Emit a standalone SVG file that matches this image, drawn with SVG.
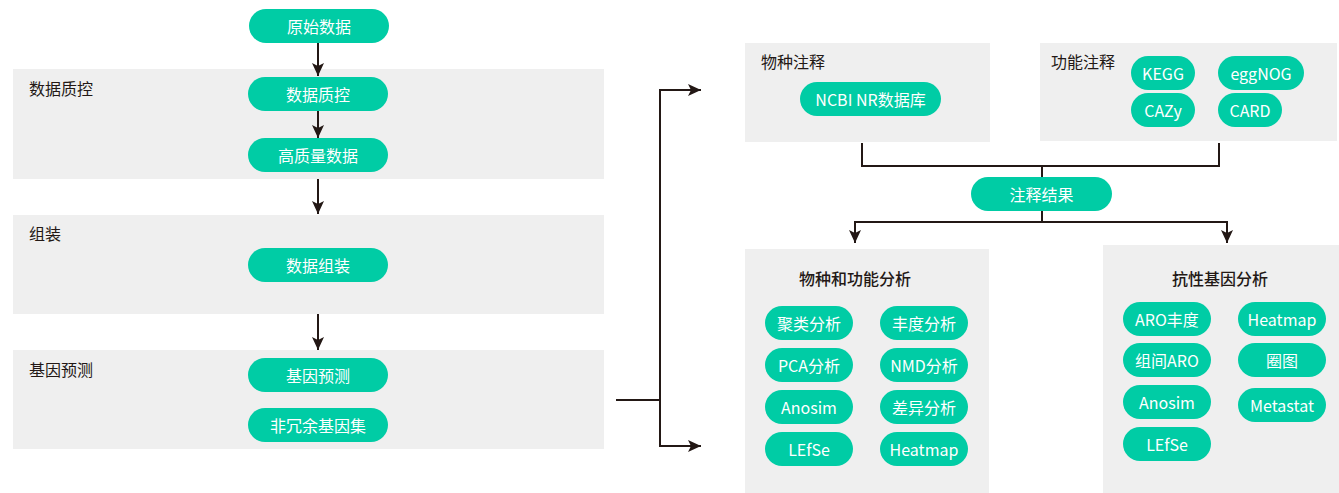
<svg xmlns="http://www.w3.org/2000/svg" width="1339" height="493" viewBox="0 0 1339 493">
<defs>
<style>
.band{fill:#efefef}
.pill{fill:#00cca5}
.pt{fill:#ffffff;font-family:"Noto Sans CJK SC","Noto Sans",sans-serif;font-size:16px;text-anchor:middle;dominant-baseline:central}
.lbl{fill:#231815;font-family:"Noto Sans CJK SC","Noto Sans",sans-serif;font-size:16px;dominant-baseline:central}
.ttl{fill:#231815;font-family:"Noto Sans CJK SC","Noto Sans",sans-serif;font-size:16px;font-weight:500;text-anchor:middle;dominant-baseline:central}
.ln{fill:none;stroke:#231815;stroke-width:2}
</style>
<marker id="ah" markerWidth="14" markerHeight="12" refX="13" refY="6" orient="auto" markerUnits="userSpaceOnUse">
<path d="M0,0 L13,6 L0,12 L3,6 z" fill="#231815"/>
</marker>
</defs>

<g id="band-qc"><rect class="band" x="13" y="69" width="591" height="110"/><text class="lbl" x="29" y="88">数据质控</text></g>
<g id="band-asm"><rect class="band" x="13" y="215" width="591" height="99"/><text class="lbl" x="29" y="233">组装</text></g>
<g id="band-gene"><rect class="band" x="13" y="350" width="591" height="99"/><text class="lbl" x="29" y="369">基因预测</text></g>

<g id="box-species"><rect class="band" x="745" y="43" width="245" height="99"/><text class="lbl" x="761" y="61">物种注释</text></g>
<g id="box-func"><rect class="band" x="1040" y="43" width="297" height="98"/><text class="lbl" x="1051" y="61">功能注释</text></g>
<g id="box-sfa"><rect class="band" x="745" y="249" width="244" height="244"/><text class="ttl" x="855" y="278">物种和功能分析</text></g>
<g id="box-arg"><rect class="band" x="1103" y="245" width="236" height="248"/><text class="ttl" x="1220" y="278">抗性基因分析</text></g>

<g id="connectors">
<line class="ln" x1="318" y1="43" x2="318" y2="76" marker-end="url(#ah)"/>
<line class="ln" x1="318" y1="111" x2="318" y2="138" marker-end="url(#ah)"/>
<line class="ln" x1="318" y1="179" x2="318" y2="214" marker-end="url(#ah)"/>
<line class="ln" x1="318" y1="314" x2="318" y2="350" marker-end="url(#ah)"/>
<line class="ln" x1="616" y1="400" x2="660" y2="400"/>
<polyline class="ln" points="660,90 660,446 701,446" marker-end="url(#ah)"/>
<line class="ln" x1="659" y1="90" x2="701" y2="90" marker-end="url(#ah)"/>
<polyline class="ln" points="862,143 862,166 1219,166 1219,143"/>
<line class="ln" x1="1042" y1="166" x2="1042" y2="177"/>
<line class="ln" x1="1042" y1="211" x2="1042" y2="222"/>
<line class="ln" x1="854" y1="222" x2="1228" y2="222"/>
<line class="ln" x1="855" y1="222" x2="855" y2="243" marker-end="url(#ah)"/>
<line class="ln" x1="1227" y1="222" x2="1227" y2="243" marker-end="url(#ah)"/>
</g>

<g id="n-raw"><rect class="pill" x="249" y="9" width="140" height="34" rx="17"/><text class="pt" x="319" y="26">原始数据</text></g>
<g id="n-qc"><rect class="pill" x="248" y="77" width="140" height="34" rx="17"/><text class="pt" x="318" y="94">数据质控</text></g>
<g id="n-hq"><rect class="pill" x="248" y="138" width="140" height="34" rx="17"/><text class="pt" x="318" y="155">高质量数据</text></g>
<g id="n-asm"><rect class="pill" x="248" y="248" width="140" height="34" rx="17"/><text class="pt" x="318" y="265">数据组装</text></g>
<g id="n-pred"><rect class="pill" x="248" y="358" width="140" height="34" rx="17"/><text class="pt" x="318" y="375">基因预测</text></g>
<g id="n-nr"><rect class="pill" x="248" y="408" width="140" height="34" rx="17"/><text class="pt" x="318" y="425">非冗余基因集</text></g>

<g id="n-ncbi"><rect class="pill" x="800" y="82" width="141" height="34" rx="17"/><text class="pt" x="870.5" y="99">NCBI NR数据库</text></g>
<g id="n-kegg"><rect class="pill" x="1131" y="56" width="64" height="34" rx="17"/><text class="pt" x="1163" y="73">KEGG</text></g>
<g id="n-eggnog"><rect class="pill" x="1218" y="56" width="86" height="34" rx="17"/><text class="pt" x="1261" y="73">eggNOG</text></g>
<g id="n-cazy"><rect class="pill" x="1131" y="93" width="64" height="34" rx="17"/><text class="pt" x="1163" y="110">CAZy</text></g>
<g id="n-card"><rect class="pill" x="1218" y="93" width="64" height="34" rx="17"/><text class="pt" x="1250" y="110">CARD</text></g>
<g id="n-result"><rect class="pill" x="971" y="177" width="141" height="34" rx="17"/><text class="pt" x="1041.5" y="194">注释结果</text></g>

<g id="n-cluster"><rect class="pill" x="765" y="306" width="88" height="34" rx="17"/><text class="pt" x="809" y="323">聚类分析</text></g>
<g id="n-abund"><rect class="pill" x="880" y="306" width="88" height="34" rx="17"/><text class="pt" x="924" y="323">丰度分析</text></g>
<g id="n-pca"><rect class="pill" x="765" y="348" width="88" height="34" rx="17"/><text class="pt" x="809" y="365">PCA分析</text></g>
<g id="n-nmd"><rect class="pill" x="880" y="348" width="88" height="34" rx="17"/><text class="pt" x="924" y="365">NMD分析</text></g>
<g id="n-anosim1"><rect class="pill" x="765" y="390" width="88" height="34" rx="17"/><text class="pt" x="809" y="407">Anosim</text></g>
<g id="n-diff"><rect class="pill" x="880" y="390" width="88" height="34" rx="17"/><text class="pt" x="924" y="407">差异分析</text></g>
<g id="n-lefse1"><rect class="pill" x="765" y="432" width="88" height="34" rx="17"/><text class="pt" x="809" y="449">LEfSe</text></g>
<g id="n-heat1"><rect class="pill" x="880" y="432" width="88" height="34" rx="17"/><text class="pt" x="924" y="449">Heatmap</text></g>

<g id="n-aro"><rect class="pill" x="1123" y="302" width="88" height="34" rx="17"/><text class="pt" x="1167" y="319">ARO丰度</text></g>
<g id="n-heat2"><rect class="pill" x="1238" y="302" width="88" height="34" rx="17"/><text class="pt" x="1282" y="319">Heatmap</text></g>
<g id="n-grparo"><rect class="pill" x="1123" y="343" width="88" height="34" rx="17"/><text class="pt" x="1167" y="360">组间ARO</text></g>
<g id="n-circos"><rect class="pill" x="1238" y="343" width="88" height="34" rx="17"/><text class="pt" x="1282" y="360">圈图</text></g>
<g id="n-anosim2"><rect class="pill" x="1123" y="385" width="88" height="34" rx="17"/><text class="pt" x="1167" y="402">Anosim</text></g>
<g id="n-metastat"><rect class="pill" x="1238" y="388" width="88" height="34" rx="17"/><text class="pt" x="1282" y="405">Metastat</text></g>
<g id="n-lefse2"><rect class="pill" x="1123" y="427" width="88" height="34" rx="17"/><text class="pt" x="1167" y="444">LEfSe</text></g>
</svg>
